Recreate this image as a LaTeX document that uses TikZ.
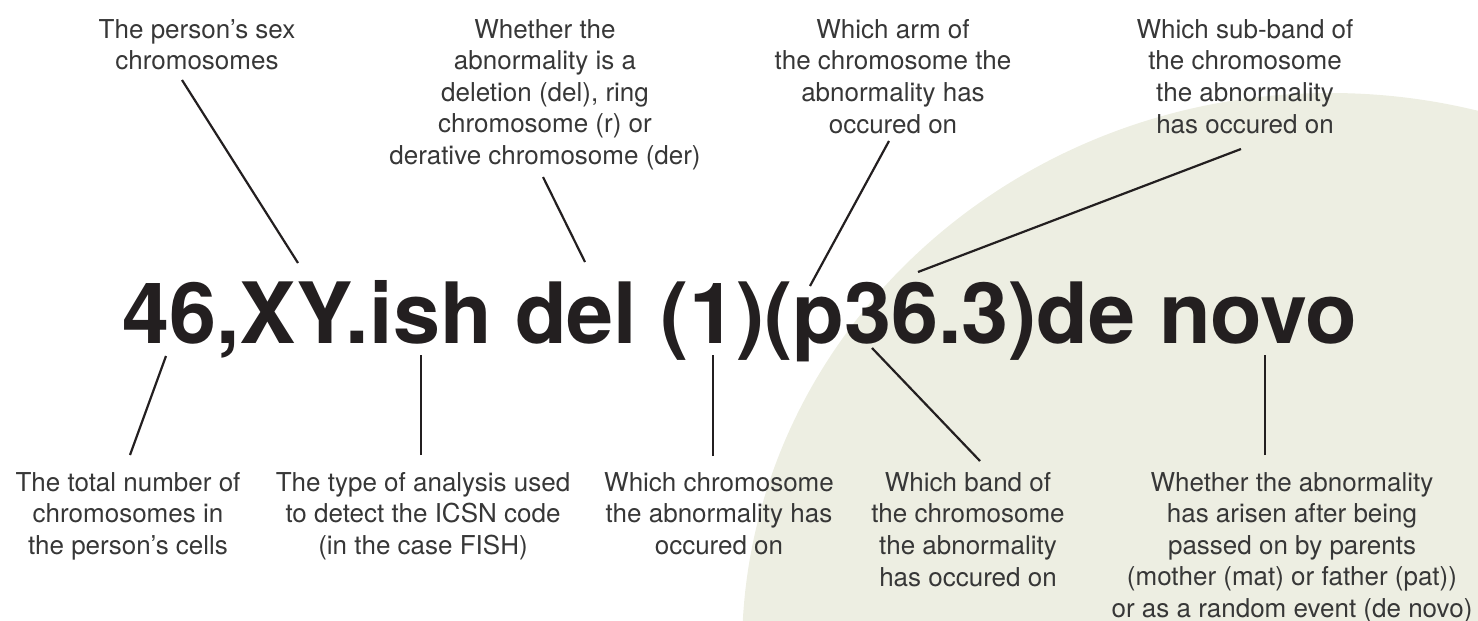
\documentclass[tikz,border=0pt]{standalone}
\usepackage{fontspec}
\setmainfont{TeX Gyre Heros}
\definecolor{bgcirc}{RGB}{237,238,226}
\definecolor{ink}{RGB}{35,31,32}
\definecolor{labelink}{RGB}{55,55,55}
\tikzset{
  lbl/.style={anchor=north, inner sep=0pt, align=center, text=labelink,
              font=\fontsize{26}{31.6}\selectfont},
  conn/.style={draw=ink, line width=2.2pt},
  codetext/.style={anchor=base west, inner sep=0pt, text=ink,
              font=\fontsize{84.6}{85}\selectfont\bfseries}
}
\begin{document}
\begin{tikzpicture}[x=1pt,y=-1pt]
\useasboundingbox (0,0) rectangle (1478,621);
\begin{scope}
  \clip (0,0) rectangle (1478,621);
  \fill[bgcirc] (1330,650) ellipse[x radius=588pt, y radius=557pt];
\end{scope}

% main code
\node[codetext] (code) at (122,343) {46,XY.ish del (1)(p36.3)de novo};

% top labels
\node[lbl] (t1) at (197,19) {The person’s sex\\chromosomes};
\node[lbl] (t2) at (545,19) {Whether the\\abnormality is a\\deletion (del), ring\\chromosome (r) or\\derative chromosome (der)};
\node[lbl] (t3) at (893,19) {Which arm of\\the chromosome the\\abnormality has\\occured on};
\node[lbl] (t4) at (1245,19) {Which sub-band of\\the chromosome\\the abnormality\\has occured on};

% bottom labels
\node[lbl] (b1) at (128,472) {The total number of\\chromosomes in\\the person’s cells};
\node[lbl] (b2) at (423,472) {The type of analysis used\\to detect the ICSN code\\(in the case FISH)};
\node[lbl] (b3) at (719,472) {Which chromosome\\the abnormality has\\occured on};
\node[lbl] (b4) at (968,472) {Which band of\\the chromosome\\the abnormality\\has occured on};
\node[lbl] (b5) at (1292,472) {Whether the abnormality\\has arisen after being\\passed on by parents\\(mother (mat) or father (pat))\\or as a random event (de novo)};

% connector end points
\coordinate (t1e) at (182,80);   \coordinate (c1) at (298,263);
\coordinate (t2e) at (543,177);  \coordinate (c2) at (585,262);
\coordinate (t3e) at (889,141);  \coordinate (c3) at (810,286);
\coordinate (t4e) at (1241,149); \coordinate (c4) at (918,272);
\coordinate (b1e) at (130,455);  \coordinate (c5) at (166,356);
\coordinate (b2e) at (421,455);  \coordinate (c6) at (421,355);
\coordinate (b3e) at (713,456);  \coordinate (c7) at (713,355);
\coordinate (b4e) at (980,461);  \coordinate (c8) at (872,348);
\coordinate (b5e) at (1265,455); \coordinate (c9) at (1265,355);

\draw[conn] (t1e) -- (c1);
\draw[conn] (t2e) -- (c2);
\draw[conn] (t3e) -- (c3);
\draw[conn] (t4e) -- (c4);
\draw[conn] (b1e) -- (c5);
\draw[conn] (b2e) -- (c6);
\draw[conn] (b3e) -- (c7);
\draw[conn] (b4e) -- (c8);
\draw[conn] (b5e) -- (c9);
\end{tikzpicture}
\end{document}
